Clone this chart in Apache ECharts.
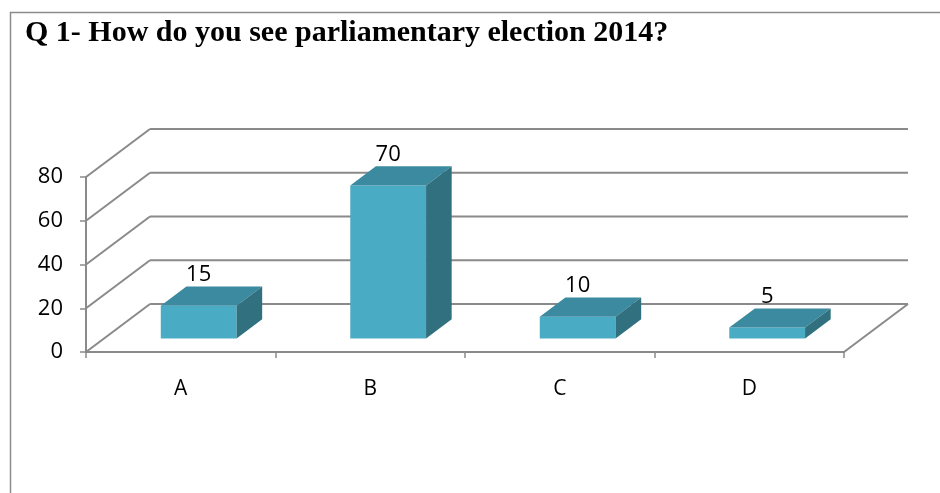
<!DOCTYPE html>
<html>
<head>
<meta charset="utf-8">
<script src="https://cdn.jsdelivr.net/npm/echarts@6/dist/echarts.min.js"></script>
<style>
  html, body { margin: 0; padding: 0; background: #fff; }
  #chart { width: 940px; height: 493px; }
</style>
</head>
<body>
<div id="chart"></div>
<script>
// Survey answers to Q1
const titleText = 'Q 1- How do you see parliamentary election 2014?';
const categories = ['A', 'B', 'C', 'D'];
const values = [15, 70, 10, 5];
const yTicks = [0, 20, 40, 60, 80];

// 3D look: the floor recedes by DEPTH_X / DEPTH_Y pixels from the front plane to the back wall
const DEPTH_X = 64;
const DEPTH_Y = -48;
const BAR_FRONT = 0.28;   // depth fraction where a bar's front face sits
const BAR_DEPTH = 0.40;   // depth fraction the bar occupies
const BAR_RATIO = 0.40;   // bar width as a share of its category slot

const GRID_COLOR = '#8a8a8a';
const FRONT_COLOR = '#4aabc5';
const TOP_COLOR = '#3b8a9f';
const SIDE_COLOR = '#31707f';
const LABEL_FONT = 'Open Sans';

const chart = echarts.init(document.getElementById('chart'), null, { renderer: 'canvas' });

// Back wall gridlines, left side wall diagonals and the floor's right edge
function renderWalls(params, api) {
  const v = api.value(1);
  const bw = api.size([1, 0])[0];
  const first = api.coord([0, v]);
  const last = api.coord([categories.length - 1, v]);
  const left = first[0] - bw / 2;
  const right = last[0] + bw / 2;
  const y = first[1];
  const style = { stroke: GRID_COLOR, lineWidth: 2, fill: null };
  const children = [
    { type: 'line', shape: { x1: left + DEPTH_X, y1: y + DEPTH_Y, x2: right + DEPTH_X, y2: y + DEPTH_Y }, style },
    { type: 'line', shape: { x1: left, y1: y, x2: left + DEPTH_X, y2: y + DEPTH_Y }, style }
  ];
  if (v === 0) {
    children.push({ type: 'line', shape: { x1: right, y1: y, x2: right + DEPTH_X, y2: y + DEPTH_Y }, style });
  }
  return { type: 'group', children };
}

// A box-shaped bar: front face, top face, right side face and its value label
function renderBar(params, api) {
  const i = api.value(0);
  const v = api.value(1);
  const base = api.coord([i, 0]);
  const top = api.coord([i, v]);
  const bw = api.size([1, 0])[0] * BAR_RATIO;
  const x0 = base[0] - bw / 2 + DEPTH_X * BAR_FRONT;
  const x1 = x0 + bw;
  const yb = base[1] + DEPTH_Y * BAR_FRONT;
  const yt = top[1] + DEPTH_Y * BAR_FRONT;
  const dx = DEPTH_X * BAR_DEPTH;
  const dy = DEPTH_Y * BAR_DEPTH;
  return {
    type: 'group',
    children: [
      { type: 'rect', shape: { x: x0, y: yt, width: bw, height: yb - yt }, style: { fill: FRONT_COLOR } },
      { type: 'polygon', shape: { points: [[x0, yt], [x1, yt], [x1 + dx, yt + dy], [x0 + dx, yt + dy]] }, style: { fill: TOP_COLOR } },
      { type: 'polygon', shape: { points: [[x1, yt], [x1 + dx, yt + dy], [x1 + dx, yb + dy], [x1, yb]] }, style: { fill: SIDE_COLOR } },
      {
        type: 'text',
        x: (x0 + x1) / 2,
        y: yt + dy - 1,
        style: {
          text: String(v), fill: '#000', fontSize: 22, fontFamily: LABEL_FONT,
          align: 'center', verticalAlign: 'bottom'
        }
      }
    ]
  };
}

chart.setOption({
  animation: false,
  backgroundColor: '#fff',
  title: {
    text: titleText,
    left: 20,
    top: 13,
    textStyle: { fontFamily: 'Liberation Serif', fontWeight: 'bold', fontSize: 30, color: '#000' }
  },
  graphic: [{
    type: 'rect',
    shape: { x: 10.5, y: 12.5, width: 1000, height: 1000 },
    style: { fill: null, stroke: '#8c8c8c', lineWidth: 1.5 },
    silent: true,
    z: -10
  }],
  grid: { left: 86, right: 96, top: 177, bottom: 141, containLabel: false },
  xAxis: {
    type: 'category',
    data: categories,
    boundaryGap: true,
    axisLine: { lineStyle: { color: GRID_COLOR, width: 2 } },
    axisTick: { show: true, length: 6, lineStyle: { color: GRID_COLOR, width: 1.5 } },
    axisLabel: { margin: 27, fontSize: 21, fontFamily: LABEL_FONT, color: '#000' },
    splitLine: { show: false }
  },
  yAxis: {
    type: 'value',
    min: 0,
    max: 80,
    interval: 20,
    axisLine: { show: true, lineStyle: { color: GRID_COLOR, width: 2 } },
    axisTick: { show: true, length: 6, lineStyle: { color: GRID_COLOR, width: 1.5 } },
    axisLabel: { margin: 23, fontSize: 22, fontFamily: LABEL_FONT, color: '#000' },
    splitLine: { show: false }
  },
  series: [
    {
      type: 'custom',
      name: 'walls',
      renderItem: renderWalls,
      data: yTicks.map(t => [0, t]),
      silent: true,
      z: 1
    },
    {
      type: 'custom',
      name: 'answers',
      renderItem: renderBar,
      data: values.map((v, i) => [i, v]),
      z: 2
    }
  ]
});
</script>
</body>
</html>
